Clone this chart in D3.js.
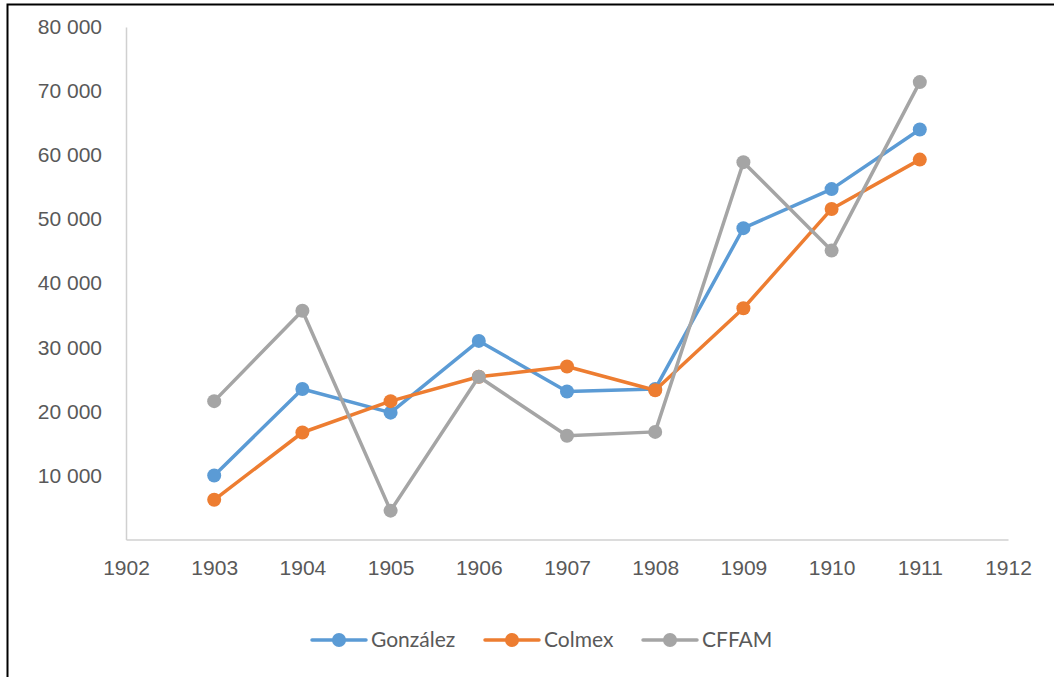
<!DOCTYPE html>
<html>
<head>
<meta charset="utf-8">
<style>
  body { margin: 0; background: #fff; }
  svg { display: block; font-family: Lato, "Open Sans", sans-serif; }
</style>
</head>
<body>
<svg width="1054" height="677"></svg>
<script src="https://d3js.org/d3.v7.min.js"></script>
<script>

var years = [1903, 1904, 1905, 1906, 1907, 1908, 1909, 1910, 1911];
var gonzalez = [10000, 23500, 19800, 31000, 23100, 23500, 48600, 54700, 64000];
var colmex = [6200, 16700, 21600, 25400, 27000, 23300, 36100, 51600, 59300];
var cffam = [21600, 35700, 4500, 25400, 16200, 16800, 58900, 45100, 71400];
var seriesNames = ["González", "Colmex", "CFFAM"];
var seriesColors = ["#5B9BD5", "#ED7D31", "#A5A5A5"];
var yTicks = [0, 10000, 20000, 30000, 40000, 50000, 60000, 70000, 80000];
var xTicks = [1902, 1903, 1904, 1905, 1906, 1907, 1908, 1909, 1910, 1911, 1912];

var svg = d3.select("svg");

// outer frame
svg.append("rect")
    .attr("x", 7.5).attr("y", 4.5)
    .attr("width", 1060).attr("height", 700)
    .attr("fill", "none")
    .attr("stroke", "#000")
    .attr("stroke-width", 2);

var x = d3.scaleLinear().domain([1902, 1912]).range([126, 1008]);
var y = d3.scaleLinear().domain([0, 80000]).range([539.5, 27]);

var fmt = function(d) { return d === 0 ? "" : d3.format(",")(d).replace(/,/g, " "); };

// y axis
var gy = svg.append("g")
    .attr("transform", "translate(126,0)")
    .call(d3.axisLeft(y).tickValues(yTicks).tickSize(0).tickPadding(24).tickFormat(fmt));
gy.select(".domain").attr("stroke", "#d0d0d0").attr("stroke-width", 1.5);
gy.selectAll("text").attr("fill", "#595959").attr("font-size", 21);

// x axis
var gx = svg.append("g")
    .attr("transform", "translate(0,539.5)")
    .call(d3.axisBottom(x).tickValues(xTicks).tickSize(0).tickPadding(21).tickFormat(d3.format("d")));
gx.select(".domain").attr("stroke", "#d0d0d0").attr("stroke-width", 1.5);
gx.selectAll("text").attr("fill", "#595959").attr("font-size", 21);

var data = [gonzalez, colmex, cffam];
var line = d3.line()
    .x(function(d, i) { return x(years[i]); })
    .y(function(d) { return y(d); });

data.forEach(function(vals, s) {
  var g = svg.append("g");
  g.append("path")
      .datum(vals)
      .attr("fill", "none")
      .attr("stroke", seriesColors[s])
      .attr("stroke-width", 3.5)
      .attr("stroke-linejoin", "round")
      .attr("d", line);
  g.selectAll("circle")
    .data(vals)
    .enter().append("circle")
      .attr("cx", function(d, i) { return x(years[i]); })
      .attr("cy", function(d) { return y(d); })
      .attr("r", 7)
      .attr("fill", seriesColors[s]);
});

// legend
var legendX = [312, 485, 643];
var leg = svg.append("g").attr("transform", "translate(0,640)");
seriesNames.forEach(function(name, s) {
  var lx = legendX[s];
  leg.append("line")
      .attr("x1", lx).attr("x2", lx + 54)
      .attr("y1", 0).attr("y2", 0)
      .attr("stroke", seriesColors[s])
      .attr("stroke-width", 3.5)
      .attr("stroke-linecap", "round");
  leg.append("circle")
      .attr("cx", lx + 27).attr("cy", 0).attr("r", 7)
      .attr("fill", seriesColors[s]);
  leg.append("text")
      .attr("x", lx + 59).attr("y", 0)
      .attr("dy", "0.35em")
      .attr("fill", "#595959")
      .attr("font-size", 21)
      .text(name);
});

</script>
</body>
</html>
